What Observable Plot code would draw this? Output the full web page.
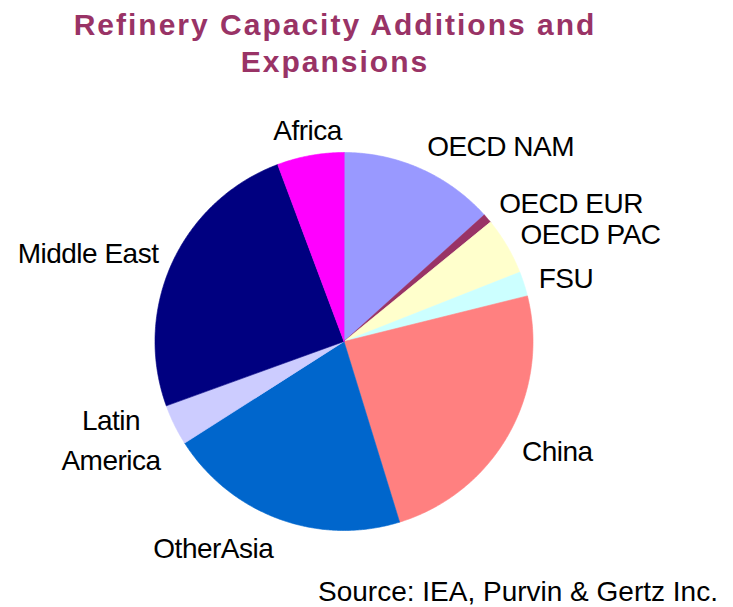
<!DOCTYPE html>
<html><head><meta charset="utf-8">
<script src="https://cdn.jsdelivr.net/npm/d3@7"></script>
<script src="https://cdn.jsdelivr.net/npm/@observablehq/plot@0.6"></script>
<style>
html,body{margin:0;padding:0;background:#fff;overflow:hidden;}
#title{box-sizing:border-box;height:80px;padding-top:6px;width:670px;text-align:center;font-family:Arial,"Liberation Sans",sans-serif;font-weight:bold;font-size:30px;line-height:37px;color:#993366;letter-spacing:2px;}
#chart svg{display:block}
#source{font-family:Arial,"Liberation Sans",sans-serif;font-size:28px;line-height:30px;padding-left:318px;color:#000;white-space:nowrap}
</style></head><body>
<div id="title">Refinery Capacity Additions and<br>Expansions</div>
<div id="chart"></div>
<div id="source">Source: IEA, Purvin &amp; Gertz Inc.</div>
<script>
// Data (clockwise from 12 o'clock)
const regions = ["OECD NAM", "OECD EUR", "OECD PAC", "FSU", "China", "OtherAsia", "Latin America", "Middle East", "Africa"];
const shares = [13.3, 0.8, 4.9, 2.1, 24.1, 20.7, 3.5, 24.8, 5.7];
const labelText = ["OECD NAM", "OECD EUR", "OECD PAC", "FSU", "China", "OtherAsia", "Latin\nAmerica", "Middle East", "Africa"];
const palette = ["#9999FF", "#993366", "#FFFFCC", "#CCFFFF", "#FF8080", "#0066CC", "#CCCCFF", "#000080", "#FF00FF"];

// Layout
const W = 733, H = 497, CX = 343.5, CY = 261, R = 189;
const FONT_SIZE = 28, LETTER_SPACING = -0.5;
const RX = 1.08, RY = 1.15; // label anchor radii (in pie radii)

const pie = d3.pie().sort(null).value(d => d)(shares);
const slices = [];
pie.forEach((p, i) => {
  const n = Math.max(2, Math.ceil((p.endAngle - p.startAngle) / (Math.PI / 360)));
  slices.push({region: regions[i], x: 0, y: 0});
  for (let k = 0; k <= n; k++) {
    const a = p.startAngle + (p.endAngle - p.startAngle) * k / n;
    slices.push({region: regions[i], x: Math.sin(a), y: Math.cos(a)});
  }
});

// measure label widths so each label box sits beside its anchor point
const ctx = document.createElement("canvas").getContext("2d");
ctx.font = `${FONT_SIZE}px Arial, "Liberation Sans", sans-serif`;
const textWidth = t => Math.max(...t.split("\n").map(l => ctx.measureText(l).width + LETTER_SPACING * (l.length - 1)));

const labels = pie.map((p, i) => {
  const a = (p.startAngle + p.endAngle) / 2;
  const s = Math.sin(a), c = Math.cos(a);
  const halfW = textWidth(labelText[i]) / 2 / R;
  const shift = s > 0.3 ? halfW : s < -0.3 ? -halfW : 0;
  return {text: labelText[i], x: RX * s + shift, y: RY * c};
});

const plot = Plot.plot({
  width: W, height: H, margin: 0,
  x: {axis: null, domain: [-CX / R, (W - CX) / R], range: [0, W]},
  y: {axis: null, domain: [-(H - CY) / R, CY / R], range: [H, 0]},
  color: {domain: regions, range: palette},
  style: {fontFamily: "Arial, 'Liberation Sans', sans-serif", background: "white", letterSpacing: LETTER_SPACING + "px", overflow: "visible"},
  marks: [
    Plot.line(slices, {x: "x", y: "y", z: "region", fill: "region", stroke: "region", strokeWidth: 0.6, curve: "linear-closed"}),
    Plot.text(labels, {x: "x", y: "y", text: "text", textAnchor: "middle", fontSize: FONT_SIZE, fill: "black", lineHeight: 1.43})
  ]
});
document.getElementById("chart").appendChild(plot);
</script>
</body></html>
